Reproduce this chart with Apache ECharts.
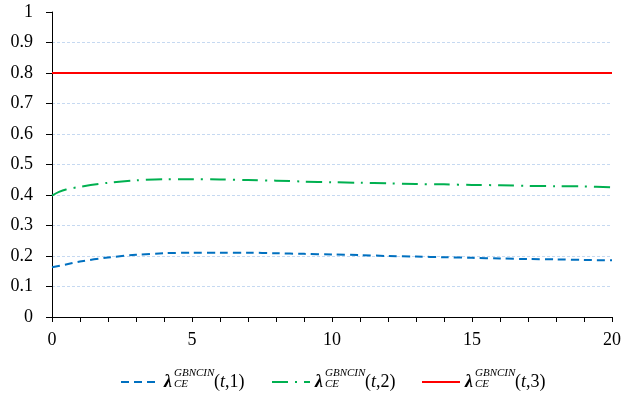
<!DOCTYPE html>
<html><head><meta charset="utf-8">
<script src="https://cdn.jsdelivr.net/npm/echarts@6/dist/echarts.min.js"></script>
<style>html,body{margin:0;padding:0;background:#fff}#c{width:626px;height:394px}</style>
</head><body><div id="c"></div>
<script>
var tBlue  = [0,0.5,1,2,3,4,5,6,7,8,9,10,11,12,13,14,15,16,17,18,19,20];
var blue   = [0.163,0.172,0.182,0.195,0.204,0.209,0.211,0.211,0.211,0.209,0.207,0.205,0.203,0.200,0.198,0.196,0.194,0.192,0.190,0.189,0.187,0.186];
var tGreen = [0,0.25,0.5,1,2,3,4,5,6,7,8,9,10,11,12,13,14,15,16,17,18,19,20];
var green  = [0.398,0.410,0.418,0.427,0.440,0.448,0.452,0.452,0.451,0.449,0.447,0.444,0.442,0.440,0.438,0.436,0.435,0.433,0.432,0.430,0.429,0.428,0.425];
var tRed   = [0,20];
var red    = [0.8,0.8];
var seriesNames = ['λCE GBNCIN(t,1)','λCE GBNCIN(t,2)','λCE GBNCIN(t,3)'];
var seriesIdx = ['1','2','3'];
var colors = ['#0070C0','#00B050','#FF0000'];

function pairs(xs, ys){ return xs.map(function(x,i){return [x, ys[i]];}); }

var serif = '"Liberation Serif","Times New Roman",serif';
var chart = echarts.init(document.getElementById('c'));
var legendLefts = [120, 271, 421];
var legends = seriesNames.map(function(n, i){
  return {
    left: legendLefts[i], top: 373, padding: 0, itemWidth: 38, itemHeight: 14, itemGap: 0,
    data: [n],
    itemStyle: {opacity: 0},
    formatter: function(){ return '{lam|λ}{sp|}{p|(}{it|t}{p|,' + seriesIdx[i] + ')}'; },
    textStyle: {
      rich: {
        lam: {fontFamily: serif, fontSize: 18, fontStyle: 'italic', fontWeight: 'bold', color: '#000'},
        sp: {width: 42},
        p: {fontFamily: serif, fontSize: 18, color: '#000'},
        it: {fontFamily: serif, fontSize: 18, fontStyle: 'italic', color: '#000'}
      }
    },
    selectedMode: false
  };
});
var graphics = [];
legendLefts.forEach(function(l){
  var x0 = l + 54;
  graphics.push({type:'text', left: x0, top: 368, style:{text:'GBNCIN', font:'italic 11px ' + serif, fill:'#000'}});
  graphics.push({type:'text', left: x0, top: 379, style:{text:'CE', font:'italic 11px ' + serif, fill:'#000'}});
});
var lineStyles = [
  {color: colors[0], width: 2, type: [8,5]},
  {color: colors[1], width: 2, type: [16,7,2,7]},
  {color: colors[2], width: 2, type: 'solid'}
];
var datas = [pairs(tBlue, blue), pairs(tGreen, green), pairs(tRed, red)];
var series = seriesNames.map(function(n, i){
  return {name: n, type: 'line', data: datas[i], showSymbol: false, symbol: 'none', smooth: 0.3,
    lineStyle: lineStyles[i], itemStyle: {color: colors[i]}, animation: false};
});
var gridColors = ['rgba(0,0,0,0)','#C6D9F1','#C6D9F1','#C6D9F1','#C6D9F1','#C6D9F1','#C6D9F1','#C6D9F1','#C6D9F1','#C6D9F1','rgba(0,0,0,0)'];
chart.setOption({
  animation: false,
  backgroundColor: '#fff',
  grid: {left: 52, right: 14, top: 12, bottom: 77},
  legend: legends,
  graphic: graphics,
  xAxis: {
    type: 'value', min: 0, max: 20, interval: 1,
    axisLine: {lineStyle: {color: '#000', width: 1}},
    axisTick: {show: true, length: 5, lineStyle: {color: '#000'}},
    splitLine: {show: false},
    axisLabel: {margin: 14, color: '#000', fontFamily: serif, fontSize: 18,
      formatter: function(v){ return v % 5 === 0 ? String(v) : ''; }}
  },
  yAxis: {
    type: 'value', min: 0, max: 1, interval: 0.1,
    axisLine: {show: true, lineStyle: {color: '#000', width: 1}},
    axisTick: {show: true, length: 6, lineStyle: {color: '#000'}},
    splitLine: {show: true, lineStyle: {color: gridColors, type: [3,2], width: 1}},
    axisLabel: {margin: 19, color: '#000', fontFamily: serif, fontSize: 18,
      formatter: function(v){ return String(Math.round(v*10)/10); }}
  },
  series: series
});
</script></body></html>
